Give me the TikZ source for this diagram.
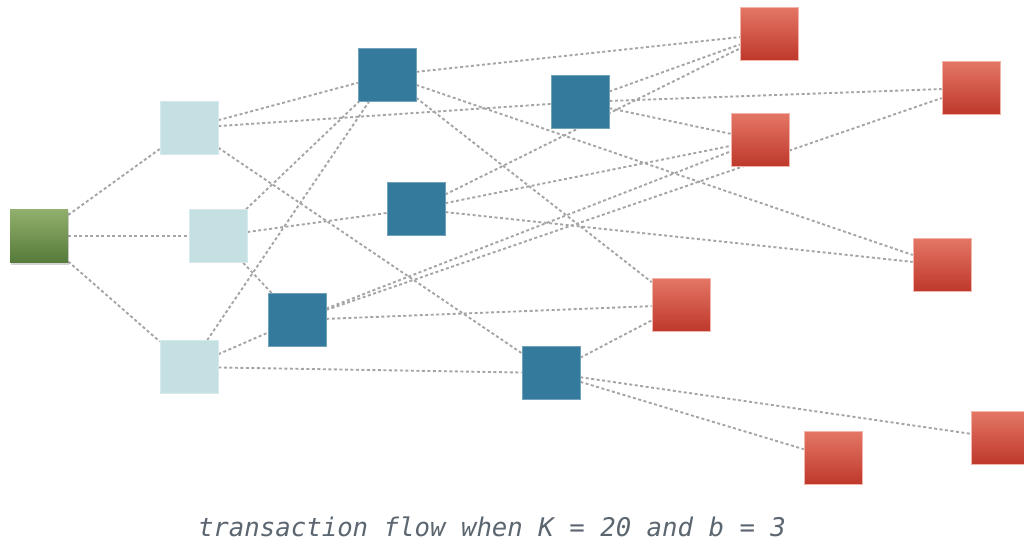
\documentclass[tikz,border=0pt]{standalone}
\usepackage{fontspec}
\newfontfamily\capfont{DejaVu Sans Mono}[ItalicFont={DejaVu Sans Mono Oblique}]
\usetikzlibrary{shadows,backgrounds}
\definecolor{srctop}{RGB}{146,176,108}
\definecolor{srcbot}{RGB}{86,122,58}
\definecolor{hopfill}{RGB}{197,224,227}
\definecolor{midfill}{RGB}{52,122,156}
\definecolor{sinktop}{RGB}{228,118,102}
\definecolor{sinkbot}{RGB}{190,56,42}
\definecolor{edgegray}{RGB}{165,165,165}
\definecolor{capgray}{RGB}{92,102,112}
\begin{document}
\begin{tikzpicture}[x=1pt,y=-1pt,
  box/.style={minimum width=58pt,minimum height=53pt,inner sep=0pt},
  src/.style={box,top color=srctop,bottom color=srcbot,
    drop shadow={shadow xshift=1pt,shadow yshift=-2pt,opacity=0.35}},
  hop/.style={box,fill=hopfill,draw=hopfill!70!white,line width=0.6pt},
  mid/.style={box,fill=midfill,draw=midfill!70!white,line width=0.6pt},
  sink/.style={box,top color=sinktop,bottom color=sinkbot,draw=sinktop!55!white,line width=0.6pt},
  flow/.style={draw=edgegray,dash pattern=on 3pt off 2.5pt,line width=1.9pt}
]
\useasboundingbox (0,0) rectangle (1024,543);
\node[src] (g) at (39,236) {};
\foreach \n/\x/\y in {l1/189/128,l2/218/236,l3/189/367}
  \node[hop] (\n) at (\x,\y) {};
\foreach \n/\x/\y in {b1/387/75,b2/580/102,b3/416/209,b4/297/320,b5/551/373}
  \node[mid] (\n) at (\x,\y) {};
\foreach \n/\x/\y in {r1/769/34,r2/971/88,r3/760/140,r4/942/265,r5/681/305,r6/1000/438,r7/833/458}
  \node[sink] (\n) at (\x,\y) {};
\begin{scope}[on background layer]
\foreach \a/\b in {g/l1,g/l2,g/l3,
    l1/b1,l1/b2,l1/b5,l2/b1,l2/b3,l2/b4,l3/b1,l3/b4,l3/b5,
    b1/r1,b1/r4,b1/r5,b2/r1,b2/r2,b2/r3,b3/r1,b3/r3,b3/r4,
    b4/r2,b4/r3,b4/r5,b5/r5,b5/r6,b5/r7}
  \draw[flow] (\a) -- (\b);
\end{scope}
\node[text=capgray,font=\capfont\itshape\fontsize{25.7}{30}\selectfont] (cap) at (492,527)
  {transaction flow when K = 20 and b = 3};
\end{tikzpicture}
\end{document}
